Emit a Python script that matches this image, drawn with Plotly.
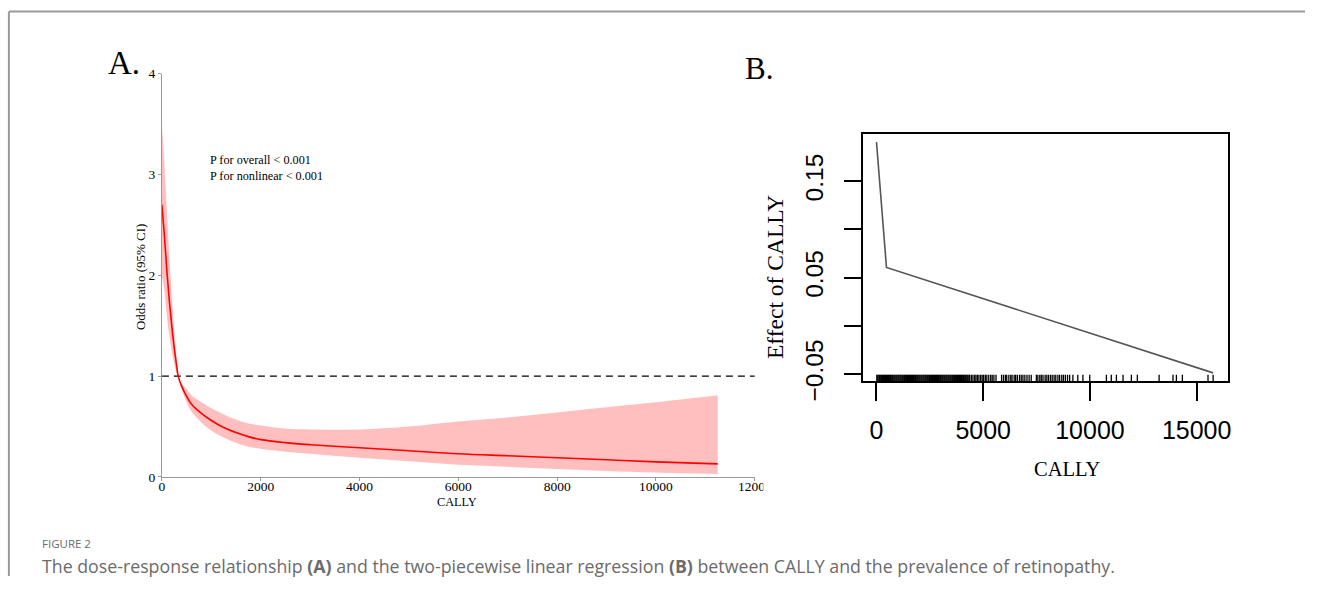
import plotly.graph_objects as go

W, H = 1322, 596

# ---------------- Panel A data: restricted cubic spline OR ----------------
cally_a = [0, 50, 100, 150, 200, 250, 300, 330, 400, 500, 600, 800, 1000, 1250, 1500, 1750,
           2000, 2500, 3000, 4000, 5000, 6000, 7000, 8000, 9000, 10000, 11250]
or_mid = [2.70, 2.40, 2.05, 1.75, 1.50, 1.28, 1.10, 1.00, 0.90, 0.80, 0.72, 0.63, 0.56, 0.49, 0.44, 0.40,
          0.37, 0.34, 0.32, 0.29, 0.26, 0.23, 0.21, 0.19, 0.17, 0.15, 0.13]
or_upper = [3.50, 3.10, 2.65, 2.20, 1.80, 1.45, 1.17, 1.00, 0.93, 0.87, 0.81, 0.74, 0.68, 0.62, 0.57, 0.53,
            0.51, 0.48, 0.47, 0.47, 0.50, 0.55, 0.59, 0.64, 0.69, 0.74, 0.81]
or_lower = [2.00, 1.85, 1.60, 1.40, 1.25, 1.12, 1.03, 1.00, 0.87, 0.74, 0.65, 0.54, 0.46, 0.39, 0.34, 0.30,
            0.28, 0.25, 0.23, 0.19, 0.155, 0.12, 0.10, 0.08, 0.06, 0.045, 0.03]
ref_or = 1
a_xticks = [0, 2000, 4000, 6000, 8000, 10000, 12000]
a_xticktext = ["0", "2000", "4000", "6000", "8000", "10000", "12000"]
a_yticks = [0, 1, 2, 3, 4]
a_yticktext = ["0", "1", "2", "3", "4"]
p_text = "P for overall < 0.001<br>P for nonlinear < 0.001"

# ---------------- Panel B data: two-piecewise linear ----------------
cally_b = [0, 468, 15770]
effect_b = [0.1905, 0.0606, -0.0487]
rug_cally = [15, 60, 110, 150, 200, 240, 290, 330, 380, 420, 470, 510, 560, 600, 650, 690, 740, 780,
             830, 870, 920, 960, 1010, 1050, 1100, 1140, 1190, 1230, 1280, 1320, 1370, 1410, 1460,
             1500, 1550, 1590, 1640, 1680, 1730, 1770, 1820, 1860, 1910, 1950, 2000, 2040, 2090,
             2130, 2180, 2220, 2270, 2310, 2360, 2400, 2450, 2490, 2540, 2580, 2630, 2670, 2720,
             2760, 2810, 2850, 2900, 2940, 2990, 3030, 3080, 3120, 3170, 3210, 3260, 3300, 3350,
             3390, 3440, 3480, 3530, 3570, 3620, 3660, 3710, 3750, 3800, 3840, 3890, 3930, 3980,
             4020, 4070, 4110, 4160, 4200, 4250, 4290, 4340, 4370,
             4450, 4520, 4600, 4660, 4730, 4800, 4880, 4950, 5020, 5100, 5170, 5260, 5350, 5420,
             5500, 5600, 5860, 5950, 6040, 6100, 6200, 6290, 6350, 6450, 6520, 6600, 6700, 6780,
             6860, 6950, 7050, 7150, 7250, 7490, 7560, 7650, 7720, 7800, 7900, 7980, 8060, 8150,
             8230, 8320, 8400, 8500, 8580, 8680, 8760, 8850, 8950, 9050, 9200, 9430, 9670, 9990,
             10770, 11000, 11240, 11550, 11940, 12220, 13240, 13890, 14050, 14330, 15530, 15770]
b_xticks = [0, 5000, 10000, 15000]
b_xticktext = ["0", "5000", "10000", "15000"]
b_yticks = [-0.05, 0.0, 0.05, 0.10, 0.15]
b_yticktext = ["\u22120.05", "", "0.05", "", "0.15"]

caption_head = "FIGURE 2"
caption_body = ("The dose-response relationship <b>(A)</b> and the two-piecewise linear regression "
                "<b>(B)</b> between CALLY and the prevalence of retinopathy.")

SERIF = "Liberation Serif, Times New Roman, serif"
SANS = "Liberation Sans, Arial, sans-serif"

# layout helpers: convert target picture pixels to paper fractions
SX, SY, OX, OY = 0.985, 0.956, 3.1, 5.4


def fx(p):
    return (p - OX) / SX / W


def fy(p):
    return 1 - (p - OY) / SY / H


fig = go.Figure()

fig.add_trace(go.Scatter(x=cally_a, y=or_upper, mode="lines", line=dict(width=0, shape="spline"),
                         hoverinfo="skip", showlegend=False, xaxis="x", yaxis="y"))
fig.add_trace(go.Scatter(x=cally_a, y=or_lower, mode="lines", line=dict(width=0, shape="spline"),
                         fill="tonexty", fillcolor="#FFBFBF",
                         hoverinfo="skip", showlegend=False, xaxis="x", yaxis="y"))
fig.add_trace(go.Scatter(x=[a_xticks[0], a_xticks[-1]], y=[ref_or, ref_or], mode="lines",
                         line=dict(color="black", width=1.3, dash="7px,5px"),
                         showlegend=False, xaxis="x", yaxis="y"))
fig.add_trace(go.Scatter(x=cally_a, y=or_mid, mode="lines",
                         line=dict(color="#FF0000", width=1.6, shape="spline"),
                         showlegend=False, xaxis="x", yaxis="y"))

fig.add_trace(go.Scatter(x=cally_b, y=effect_b, mode="lines", line=dict(color="#555555", width=1.6),
                         showlegend=False, xaxis="x2", yaxis="y2"))
fig.add_trace(go.Scatter(x=rug_cally, y=[-0.0551] * len(rug_cally), mode="markers",
                         marker=dict(symbol="line-ns", size=6, line=dict(width=1.3, color="black")),
                         showlegend=False, xaxis="x2", yaxis="y2"))

axA = dict(showgrid=False, zeroline=False, showline=True, linecolor="#999999", linewidth=1,
           ticks="outside", ticklen=3, tickcolor="#999999", tickwidth=1,
           tickfont=dict(family=SERIF, size=13.5, color="black"))

fig.update_layout(
    width=W, height=H, autosize=False,
    margin=dict(l=0, r=0, t=0, b=0),
    paper_bgcolor="white", plot_bgcolor="white",
    xaxis=dict(axA, domain=[fx(162), fx(755)], range=[0, 12000], tickvals=a_xticks,
               ticktext=a_xticktext, anchor="y", ticklabelstandoff=-6),
    yaxis=dict(axA, domain=[fy(476), fy(72)], range=[0, 4], tickvals=a_yticks,
               ticktext=a_yticktext, anchor="x", ticklabelstandoff=0),
    xaxis2=dict(domain=[fx(863), fx(1228)], range=[-642, 16455], tickvals=b_xticks,
                ticktext=b_xticktext,
                showgrid=False, zeroline=False, showline=True, mirror=True, linecolor="black",
                linewidth=1.5, ticks="outside", ticklen=18, tickwidth=1.5, tickcolor="black",
                tickfont=dict(family=SANS, size=25, color="black"), ticklabelstandoff=8,
                anchor="y2"),
    yaxis2=dict(domain=[fy(380), fy(133)], range=[-0.0572, 0.1985], tickvals=b_yticks,
                ticktext=b_yticktext, tickangle=-90,
                showgrid=False, zeroline=False, showline=True, mirror=True, linecolor="black",
                linewidth=1.5, ticks="outside", ticklen=17, tickwidth=1.5, tickcolor="black",
                tickfont=dict(family=SANS, size=24.5, color="black"), ticklabelstandoff=11,
                anchor="x2"),
)

ann = [
    dict(x=fx(124), y=fy(61), text="A.", font=dict(family=SERIF, size=33, color="black")),
    dict(x=fx(759), y=fy(67), text="B.", font=dict(family=SERIF, size=31, color="black")),
    dict(x=fx(140), y=fy(275), text="Odds ratio (95% CI)", textangle=-90,
         font=dict(family=SERIF, size=13, color="black")),
    dict(x=fx(457), y=fy(501), text="CALLY", font=dict(family=SERIF, size=12.3, color="black")),
    dict(x=fx(208), y=fy(167), text=p_text, xanchor="left", align="left",
         font=dict(family=SERIF, size=12.2, color="black")),
    dict(x=fx(775), y=fy(276), text="Effect of CALLY", textangle=-90,
         font=dict(family=SERIF, size=23.5, color="black")),
    dict(x=fx(1067), y=fy(468), text="CALLY", font=dict(family=SERIF, size=20.5, color="black")),
    dict(x=fx(40), y=fy(543), text=caption_head, xanchor="left",
         font=dict(family="Open Sans, sans-serif", size=11.5, color="#6b6b6b")),
    dict(x=fx(40), y=fy(565), text=caption_body, xanchor="left",
         font=dict(family="Open Sans, sans-serif", size=17.75, color="#6b6b6b")),
]
for a in ann:
    a.update(xref="paper", yref="paper", showarrow=False)
    a.setdefault("xanchor", "center")
    a.setdefault("yanchor", "middle")
fig.update_layout(annotations=ann)

frame = dict(type="line", xref="paper", yref="paper", line=dict(color="#9a9a9a", width=2))
fig.update_layout(shapes=[
    dict(frame, x0=fx(9), y0=fy(10), x1=1, y1=fy(10)),
    dict(frame, x0=fx(9), y0=fy(10), x1=fx(9), y1=0),
    # the source panel image is cropped just after "1200"
    dict(type="rect", xref="paper", yref="paper", x0=fx(763.5), x1=fx(790), y0=fy(496), y1=fy(478),
         fillcolor="white", line=dict(width=0), layer="above"),
])

fig.write_html("out.html", config={"displayModeBar": False},
               post_script="document.body.style.margin='0';document.body.style.overflow='hidden';")
